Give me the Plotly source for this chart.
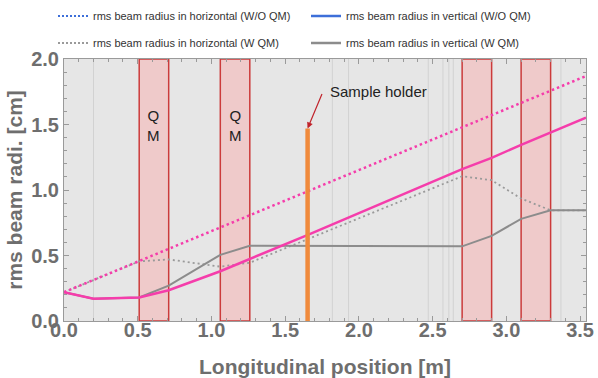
import plotly.graph_objects as go

# ---------------- data ----------------
# horizontal rms radius without quadrupole magnets (straight line)
h_woqm_x = [0.0, 3.54]
h_woqm_y = [0.22, 1.87]

# vertical rms radius without QM
v_woqm_x = [0.0, 0.20, 0.51, 0.71, 1.06, 1.26, 1.65, 2.70, 2.90, 3.10, 3.30, 3.54]
v_woqm_y = [0.22, 0.17, 0.18, 0.235, 0.38, 0.472, 0.656, 1.16, 1.245, 1.345, 1.44, 1.553]

# horizontal rms radius with QM
h_wqm_x = [0.0, 0.51, 0.71, 1.06, 1.26, 2.70, 2.90, 3.10, 3.30, 3.54]
h_wqm_y = [0.22, 0.455, 0.47, 0.415, 0.445, 1.105, 1.075, 0.935, 0.845, 0.845]

# vertical rms radius with QM
v_wqm_x = [0.0, 0.20, 0.51, 0.71, 1.06, 1.26, 2.70, 2.90, 3.10, 3.30, 3.54]
v_wqm_y = [0.22, 0.17, 0.18, 0.27, 0.505, 0.575, 0.57, 0.65, 0.78, 0.845, 0.845]

# quadrupole magnet positions (start, end) [m]
qm_start = [0.51, 1.06, 2.70, 3.10]
qm_end = [0.71, 1.26, 2.90, 3.30]

# other beamline element positions (thin vertical lines) [m]
elem_x = [0.20, 1.82, 1.93, 2.47, 2.57, 2.61, 2.64, 3.37]

# sample holder
sample_x = 1.652
sample_h = 1.47

legend_names = [
    "rms beam radius in horizontal (W/O QM)",
    "rms beam radius in vertical (W/O QM)",
    "rms beam radius in horizontal (W QM)",
    "rms beam radius in vertical (W QM)",
]

x_ticks = [0.0, 0.5, 1.0, 1.5, 2.0, 2.5, 3.0, 3.5]
y_ticks = [0.0, 0.5, 1.0, 1.5, 2.0]

# ---------------- style ----------------
PINK = "#f53dab"
BLUE = "#3d6fd9"
GRAY_SOLID = "#8c8c8c"
GRAY_DOT = "#9a9a9a"
ORANGE = "#f08a3c"
QM_LINE = "#cc3b3b"
QM_FILL = "#efcaca"
AX_TXT = "#6e6e6e"
FONT = "Liberation Sans, Arial, sans-serif"

fig = go.Figure()

# beam envelopes
fig.add_trace(go.Scatter(x=h_wqm_x, y=h_wqm_y, mode="lines",
                         line=dict(color=GRAY_DOT, width=1.8, dash="2px,3px"),
                         showlegend=False, hoverinfo="skip"))
fig.add_trace(go.Scatter(x=v_wqm_x, y=v_wqm_y, mode="lines",
                         line=dict(color=GRAY_SOLID, width=2),
                         showlegend=False, hoverinfo="skip"))
fig.add_trace(go.Scatter(x=h_woqm_x, y=h_woqm_y, mode="lines",
                         line=dict(color=PINK, width=2.5, dash="2.5px,3px"),
                         showlegend=False, hoverinfo="skip"))
fig.add_trace(go.Scatter(x=v_woqm_x, y=v_woqm_y, mode="lines",
                         line=dict(color=PINK, width=2.5),
                         showlegend=False, hoverinfo="skip"))

# sample holder bar
fig.add_trace(go.Scatter(x=[sample_x, sample_x], y=[0, sample_h], mode="lines",
                         line=dict(color=ORANGE, width=4.5),
                         showlegend=False, hoverinfo="skip"))

# legend entries (legend symbols as in the original figure)
leg_styles = [
    dict(color=BLUE, width=2, dash="2px,2px"),
    dict(color=BLUE, width=2.5),
    dict(color=GRAY_DOT, width=2, dash="2px,2px"),
    dict(color=GRAY_SOLID, width=2.5),
]
leg_ids = ["legend", "legend", "legend2", "legend2"]
for name, st, lid in zip(legend_names, leg_styles, leg_ids):
    fig.add_trace(go.Scatter(x=[None], y=[None], mode="lines", name=name,
                             line=st, legend=lid, showlegend=True))

shapes = []
for ex in elem_x:
    shapes.append(dict(type="line", xref="x", yref="y", x0=ex, x1=ex, y0=0, y1=2.0,
                       line=dict(color="#d2d2d2", width=1), layer="below"))
for s, e in zip(qm_start, qm_end):
    shapes.append(dict(type="rect", xref="x", yref="y", x0=s, x1=e, y0=0, y1=2.0,
                       fillcolor=QM_FILL, line=dict(color=QM_LINE, width=1.5),
                       layer="below"))

annotations = []
for s, e in zip(qm_start[:2], qm_end[:2]):
    annotations.append(dict(x=(s + e) / 2, y=1.49, xref="x", yref="y",
                            text="Q<br>M", showarrow=False,
                            font=dict(family=FONT, size=15, color="#222222")))
annotations.append(dict(x=1.79, y=1.75, xref="x", yref="y", text="Sample holder",
                        xanchor="left", showarrow=False,
                        font=dict(family=FONT, size=15, color="#222222")))
annotations.append(dict(x=sample_x, y=sample_h, xref="x", yref="y", text="",
                        showarrow=True, ax=15, ay=-36, axref="pixel", ayref="pixel",
                        arrowcolor="#c0232b", arrowhead=2, arrowsize=1, arrowwidth=1.2))

axis_common = dict(
    showline=True, linecolor="#9a9a9a", linewidth=1, mirror="ticks",
    ticks="inside", ticklen=5, tickcolor="#9a9a9a",
    showgrid=False, zeroline=False,
    tickfont=dict(family=FONT, size=20, color=AX_TXT, weight="bold"),
    tickformat=".1f",
)

fig.update_layout(
    width=598, height=378,
    margin=dict(l=64, r=12, t=59, b=57, autoexpand=False),
    paper_bgcolor="white", plot_bgcolor="#e6e6e6",
    font=dict(family=FONT),
    shapes=shapes, annotations=annotations,
    xaxis=dict(range=[0, 3.54], tickvals=x_ticks, ticklabelstandoff=-9,
               minor=dict(dtick=0.1, ticks="inside", ticklen=3, tickcolor="#9a9a9a", showgrid=False),
               title=dict(text="Longitudinal position [m]", standoff=21,
                          font=dict(family=FONT, size=21, color=AX_TXT, weight="bold")),
               **axis_common),
    yaxis=dict(range=[0, 2.0], tickvals=y_ticks,
               minor=dict(dtick=0.1, ticks="inside", ticklen=3, tickcolor="#9a9a9a", showgrid=False),
               title=dict(text="rms beam radi. [cm]", standoff=2,
                          font=dict(family=FONT, size=21, color=AX_TXT, weight="bold")),
               **axis_common),
    legend=dict(orientation="h", xref="container", yref="container",
                x=53 / 598, y=1 - 16 / 378, xanchor="left", yanchor="middle",
                entrywidth=208, entrywidthmode="pixels",
                font=dict(family=FONT, size=11, color="#333333"),
                bgcolor="rgba(0,0,0,0)", traceorder="normal"),
    legend2=dict(orientation="h", xref="container", yref="container",
                 x=53 / 598, y=1 - 43 / 378, xanchor="left", yanchor="middle",
                 entrywidth=208, entrywidthmode="pixels",
                 font=dict(family=FONT, size=11, color="#333333"),
                 bgcolor="rgba(0,0,0,0)", traceorder="normal"),
)

fig.write_html("out.html", config={"displayModeBar": False},
               post_script="document.body.style.margin='0';document.body.style.padding='0';")
